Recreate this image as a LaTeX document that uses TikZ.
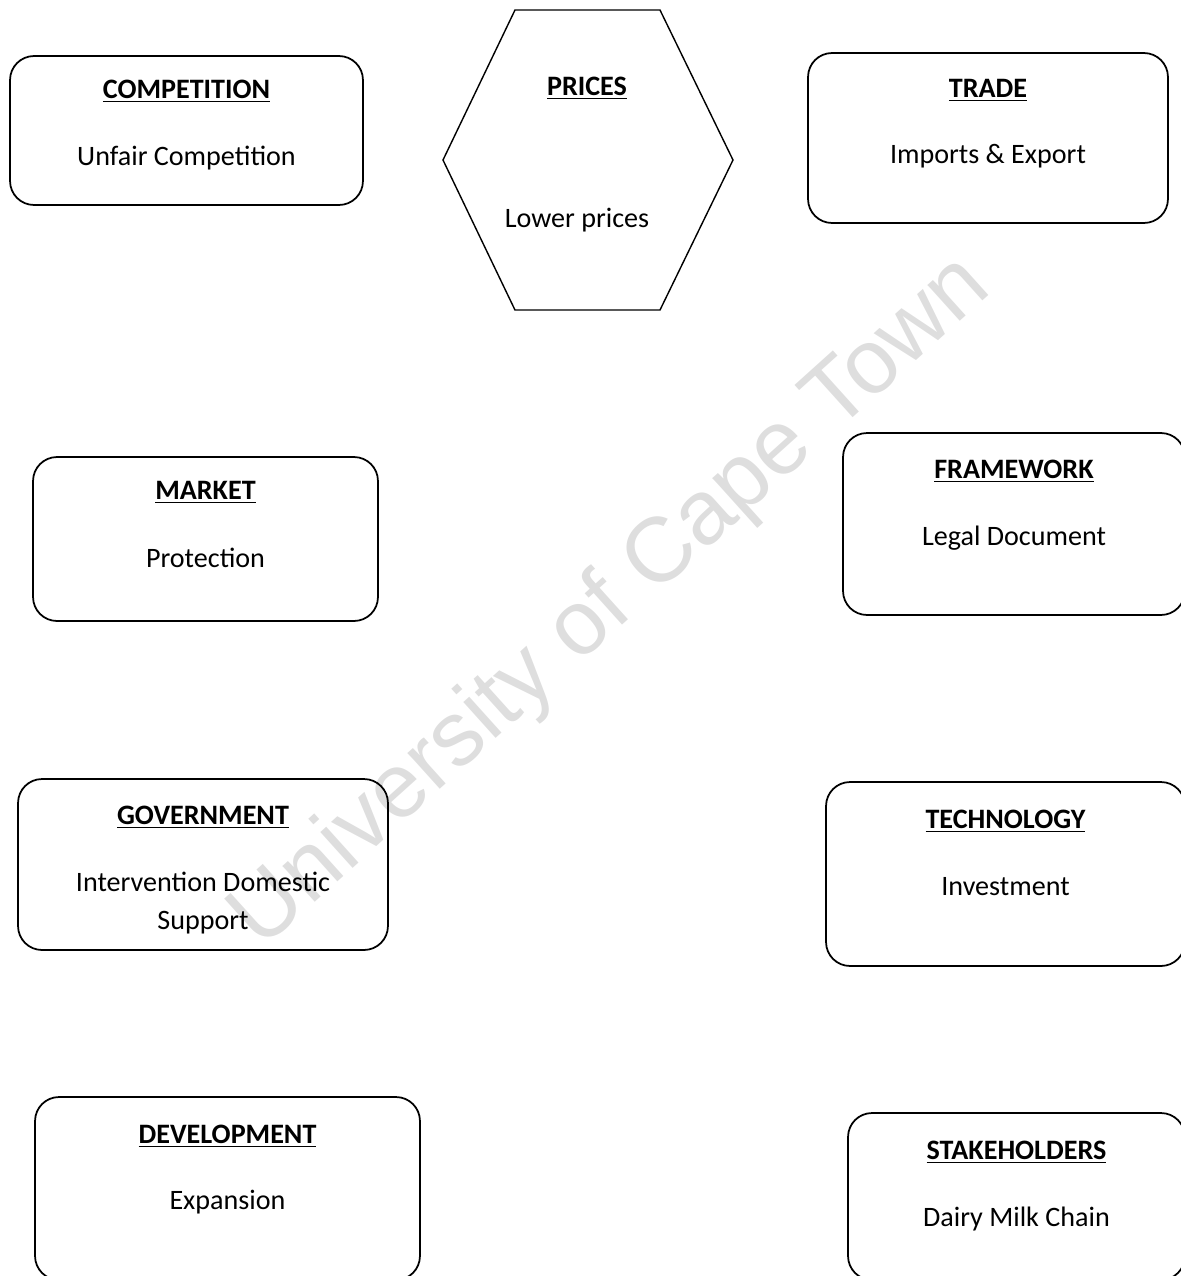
\documentclass[tikz,border=0pt]{standalone}
\usepackage{fontspec}
\setmainfont{Carlito}
\newfontfamily\markfont{Liberation Sans}
\usepackage{tikz}
\usetikzlibrary{calc}
\tikzset{
  topicbox/.style={draw, rounded corners=0.48cm, line width=1pt, inner sep=0pt},
  headtext/.style={font=\fontsize{16}{19}\selectfont\bfseries, inner sep=0pt},
  bodytext/.style={font=\fontsize{16}{22}\selectfont, align=center, inner sep=0pt},
  watermark/.style={font=\markfont\fontsize{52}{52}\selectfont, text=black!13, rotate=42}
}
\newcommand{\topichead}[1]{\underline{#1}}

\begin{document}
\begin{tikzpicture}[x=0.02cm, y=-0.02cm]
  \useasboundingbox (0,0) rectangle (1181,1276);
  \clip (0,0) rectangle (1181,1276);
  % watermark behind everything
  \node[watermark] (wm) at (612,603) {University of Cape Town};
  % prices hexagon
  \coordinate (prices) at (588,160);
  \draw[line width=0.8pt] ($(prices)+(-73,-150)$) -- ($(prices)+(72,-150)$)
    -- ($(prices)+(145,0)$) -- ($(prices)+(72,150)$)
    -- ($(prices)+(-73,150)$) -- ($(prices)+(-145,0)$) -- cycle;
  \node[headtext] (pricesT) at ($(prices)+(-1,-72)$) {\topichead{PRICES}};
  \node[bodytext] (pricesB) at ($(prices)+(-11,60)$) {Lower prices};
  % left column
  \node[topicbox, minimum width=7.06cm, minimum height=2.98cm] (comp) at (186.5,130.5) {};
  \node[headtext] (compT) at ([yshift=-0.72cm]comp.north) {\topichead{COMPETITION}};
  \node[bodytext] (compB) at ([yshift=-2.05cm]comp.north) {Unfair Competition};
  \node[topicbox, minimum width=6.9cm, minimum height=3.28cm] (market) at (205.5,539) {};
  \node[headtext] (marketT) at ([yshift=-0.72cm]market.north) {\topichead{MARKET}};
  \node[bodytext] (marketB) at ([yshift=-2.04cm]market.north) {Protection};
  \node[topicbox, minimum width=7.4cm, minimum height=3.42cm] (govt) at (203,864.5) {};
  \node[headtext] (govtT) at ([yshift=-0.78cm]govt.north) {\topichead{GOVERNMENT}};
  \node[bodytext] (govtB) at ([yshift=-2.5cm]govt.north) {Intervention Domestic\\Support};
  \node[topicbox, minimum width=7.7cm, minimum height=3.66cm] (devel) at (227.5,1188.5) {};
  \node[headtext] (develT) at ([yshift=-0.8cm]devel.north) {\topichead{DEVELOPMENT}};
  \node[bodytext] (develB) at ([yshift=-2.12cm]devel.north) {Expansion};
  % right column
  \node[topicbox, minimum width=7.2cm, minimum height=3.4cm] (trade) at (988,138) {};
  \node[headtext] (tradeT) at ([yshift=-0.76cm]trade.north) {\topichead{TRADE}};
  \node[bodytext] (tradeB) at ([yshift=-2.08cm]trade.north) {Imports \& Export};
  \node[topicbox, minimum width=6.84cm, minimum height=3.64cm] (frame) at (1014,524) {};
  \node[headtext] (frameT) at ([yshift=-0.78cm]frame.north) {\topichead{FRAMEWORK}};
  \node[bodytext] (frameB) at ([yshift=-2.12cm]frame.north) {Legal Document};
  \node[topicbox, minimum width=7.18cm, minimum height=3.68cm] (tech) at (1005.5,874) {};
  \node[headtext] (techT) at ([yshift=-0.8cm]tech.north) {\topichead{TECHNOLOGY}};
  \node[bodytext] (techB) at ([yshift=-2.1cm]tech.north) {Investment};
  \node[topicbox, minimum width=6.74cm, minimum height=3.34cm] (stake) at (1016.5,1196.5) {};
  \node[headtext] (stakeT) at ([yshift=-0.8cm]stake.north) {\topichead{STAKEHOLDERS}};
  \node[bodytext] (stakeB) at ([yshift=-2.14cm]stake.north) {Dairy Milk Chain};
\end{tikzpicture}
\end{document}
